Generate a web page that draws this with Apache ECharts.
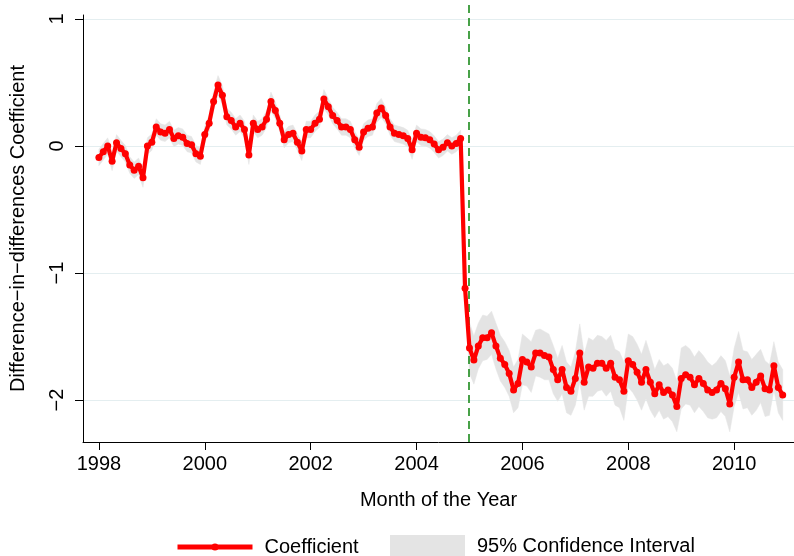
<!DOCTYPE html>
<html>
<head>
<meta charset="utf-8">
<script src="https://cdn.jsdelivr.net/npm/echarts@6/dist/echarts.min.js"></script>
<style>
  html, body { margin: 0; padding: 0; background: #ffffff; }
  #chart { width: 794px; height: 556px; }
</style>
</head>
<body>
<div id="chart"></div>
<script>
// Monthly periods, January 1998 through December 2010
const firstYear = 1998;
const lastYear = 2010;
const months = [];
for (let y = firstYear; y <= lastYear; y++) {
  for (let m = 1; m <= 12; m++) months.push({ label: y + 'm' + m, t: y + (m - 1) / 12 });
}

// Difference-in-differences coefficient by month
const coefficient = [
  // 1998
  -0.09, -0.045, 0.0, -0.12, 0.025, -0.02, -0.06, -0.15, -0.19, -0.16, -0.25, 0.0,
  // 1999
  0.03, 0.15, 0.11, 0.10, 0.13, 0.06, 0.08, 0.07, 0.02, 0.01, -0.06, -0.08,
  // 2000
  0.09, 0.18, 0.35, 0.48, 0.40, 0.23, 0.20, 0.15, 0.18, 0.13, -0.07, 0.18,
  // 2001
  0.13, 0.15, 0.21, 0.35, 0.28, 0.18, 0.05, 0.09, 0.10, 0.03, -0.04, 0.13,
  // 2002
  0.13, 0.18, 0.21, 0.37, 0.31, 0.24, 0.20, 0.15, 0.15, 0.13, 0.05, -0.01,
  // 2003
  0.11, 0.14, 0.15, 0.26, 0.30, 0.24, 0.15, 0.10, 0.09, 0.08, 0.06, -0.03,
  // 2004
  0.10, 0.07, 0.065, 0.05, 0.015, -0.03, -0.01, 0.025, 0.0, 0.02, 0.06, -1.12,
  // 2005
  -1.59, -1.685, -1.575, -1.51, -1.51, -1.47, -1.575, -1.67, -1.72, -1.79, -1.92, -1.87,
  // 2006
  -1.68, -1.70, -1.74, -1.63, -1.63, -1.65, -1.66, -1.76, -1.84, -1.76, -1.90, -1.93,
  // 2007
  -1.83, -1.63, -1.86, -1.74, -1.75, -1.71, -1.71, -1.75, -1.71, -1.82, -1.84, -1.93,
  // 2008
  -1.69, -1.72, -1.78, -1.86, -1.76, -1.86, -1.95, -1.88, -1.94, -1.92, -1.96, -2.05,
  // 2009
  -1.83, -1.80, -1.82, -1.88, -1.83, -1.87, -1.92, -1.94, -1.92, -1.87, -1.91, -2.03,
  // 2010
  -1.82, -1.70, -1.84, -1.84, -1.90, -1.86, -1.81, -1.91, -1.92, -1.73, -1.90, -1.96
];

// Half-width of the 95% confidence interval by month
const ciHalfWidth = [
  0.065, 0.065, 0.065, 0.075, 0.065, 0.065, 0.065, 0.065, 0.065, 0.065, 0.075, 0.065,
  0.065, 0.065, 0.065, 0.065, 0.065, 0.065, 0.065, 0.065, 0.065, 0.065, 0.065, 0.065,
  0.065, 0.065, 0.075, 0.075, 0.075, 0.065, 0.065, 0.065, 0.065, 0.065, 0.075, 0.065,
  0.065, 0.065, 0.065, 0.075, 0.065, 0.065, 0.065, 0.065, 0.065, 0.065, 0.075, 0.065,
  0.065, 0.065, 0.065, 0.075, 0.065, 0.065, 0.065, 0.065, 0.065, 0.065, 0.065, 0.065,
  0.065, 0.065, 0.065, 0.075, 0.075, 0.065, 0.065, 0.065, 0.065, 0.065, 0.065, 0.075,
  0.065, 0.065, 0.065, 0.065, 0.065, 0.065, 0.065, 0.065, 0.065, 0.065, 0.065, 0.07,
  0.20, 0.19, 0.18, 0.18, 0.17, 0.17, 0.18, 0.18, 0.18, 0.18, 0.18, 0.19,
  0.20, 0.19, 0.20, 0.18, 0.19, 0.19, 0.18, 0.19, 0.17, 0.19, 0.20, 0.19,
  0.21, 0.23, 0.22, 0.23, 0.22, 0.22, 0.21, 0.22, 0.22, 0.22, 0.22, 0.23,
  0.21, 0.22, 0.22, 0.22, 0.23, 0.22, 0.19, 0.20, 0.21, 0.21, 0.21, 0.20,
  0.24, 0.23, 0.22, 0.22, 0.22, 0.22, 0.22, 0.21, 0.22, 0.22, 0.22, 0.22,
  0.23, 0.24, 0.23, 0.22, 0.22, 0.22, 0.21, 0.22, 0.20, 0.19, 0.20, 0.20
];

const xTickValues = [1998, 2000, 2002, 2004, 2006, 2008, 2010];
const yTickValues = [-2, -1, 0, 1];
const treatmentDate = 2005;

const X_MIN = 1997.7, X_MAX = 2011.13;
const Y_MIN = -2.33, Y_MAX = 1.0315;
const FONT = '"Liberation Sans", Arial, sans-serif';
const CI_GREY = '#e4e4e4';
const minus = v => (v < 0 ? '\u2212' + Math.abs(v) : String(v));

const coefPoints = months.map((p, i) => [p.t, coefficient[i]]);
// [time, lower bound, upper bound]
const ciRows = months.map((p, i) => [p.t, coefficient[i] - ciHalfWidth[i], coefficient[i] + ciHalfWidth[i]]);

// The confidence band is one filled polygon: along the upper bounds, back along the lower ones
function renderBand(params, api) {
  if (params.dataIndex !== 0) return null;
  const upper = ciRows.map(r => api.coord([r[0], r[2]]));
  const lower = ciRows.map(r => api.coord([r[0], r[1]])).reverse();
  return {
    type: 'polygon',
    shape: { points: upper.concat(lower) },
    style: { fill: CI_GREY, stroke: CI_GREY, lineWidth: 0.5 },
    silent: true
  };
}

const chart = echarts.init(document.getElementById('chart'), null, { renderer: 'canvas' });

chart.setOption({
  backgroundColor: '#ffffff',
  animation: false,
  textStyle: { fontFamily: FONT },
  grid: [
    { left: 81.7, right: 0, top: 15, bottom: 114, containLabel: false },
    { left: 81.7, right: 0, top: 5, bottom: 114, containLabel: false }
  ],
  xAxis: [
    {
      type: 'value', gridIndex: 0, min: X_MIN, max: X_MAX,
      name: 'Month of the Year', nameLocation: 'middle', nameGap: 48,
      nameTextStyle: { fontSize: 20, color: '#000', fontFamily: FONT },
      axisLine: { show: true, onZero: false, lineStyle: { color: '#000', width: 1 } },
      axisTick: { show: true, length: 8, customValues: xTickValues, lineStyle: { color: '#000' } },
      axisLabel: {
        customValues: xTickValues, margin: 12, fontSize: 20, color: '#000', fontFamily: FONT,
        formatter: v => String(Math.round(v))
      },
      splitLine: { show: false }
    },
    {
      type: 'value', gridIndex: 1, min: X_MIN, max: X_MAX, show: false
    }
  ],
  yAxis: [
    {
      type: 'value', gridIndex: 0, min: Y_MIN, max: Y_MAX,
      name: 'Difference\u2212in\u2212differences Coefficient', nameLocation: 'middle', nameGap: 55,
      nameTextStyle: { fontSize: 20, color: '#000', fontFamily: FONT },
      axisLine: { show: true, onZero: false, lineStyle: { color: '#000', width: 1 } },
      axisTick: { show: true, length: 8, customValues: yTickValues, lineStyle: { color: '#000' } },
      axisLabel: {
        customValues: yTickValues, rotate: 90, margin: 16, fontSize: 20, color: '#000',
        fontFamily: FONT, formatter: minus
      },
      splitLine: { show: true, lineStyle: { color: '#e4eef0', width: 1.2 } }
    },
    {
      type: 'value', gridIndex: 1, min: 0, max: 1, show: false
    }
  ],
  legend: [
    {
      left: 170, top: 532, itemWidth: 75, itemHeight: 9,
      textStyle: { fontSize: 20, color: '#000', fontFamily: FONT, padding: [0, 0, 0, 7] },
      data: [{ name: 'Coefficient', lineStyle: { width: 5, color: '#ff0000' } }]
    },
    {
      left: 385, top: 530, itemWidth: 75, itemHeight: 22,
      textStyle: { fontSize: 20, color: '#000', fontFamily: FONT, padding: [0, 0, 0, 7] },
      data: [{ name: '95% Confidence Interval', icon: 'rect', itemStyle: { color: CI_GREY, borderWidth: 0 } }]
    }
  ],
  series: [
    {
      name: '95% Confidence Interval', type: 'custom', xAxisIndex: 0, yAxisIndex: 0,
      data: ciRows, renderItem: renderBand,
      itemStyle: { color: CI_GREY },
      encode: { x: 0, y: [1, 2] },
      silent: true, z: 1
    },
    {
      name: 'treatment', type: 'line', xAxisIndex: 1, yAxisIndex: 1,
      data: [], silent: true, z: 3,
      markLine: {
        symbol: 'none', silent: true,
        label: { show: false },
        lineStyle: { color: '#1b8a1b', type: [8, 5], width: 1.6 },
        data: [{ xAxis: treatmentDate }]
      }
    },
    {
      name: 'Coefficient', type: 'line', xAxisIndex: 0, yAxisIndex: 0,
      data: coefPoints,
      symbol: 'circle', symbolSize: 7, showAllSymbol: true,
      lineStyle: { color: '#ff0000', width: 4.2 },
      itemStyle: { color: '#ff0000' },
      z: 5
    }
  ]
});
</script>
</body>
</html>
